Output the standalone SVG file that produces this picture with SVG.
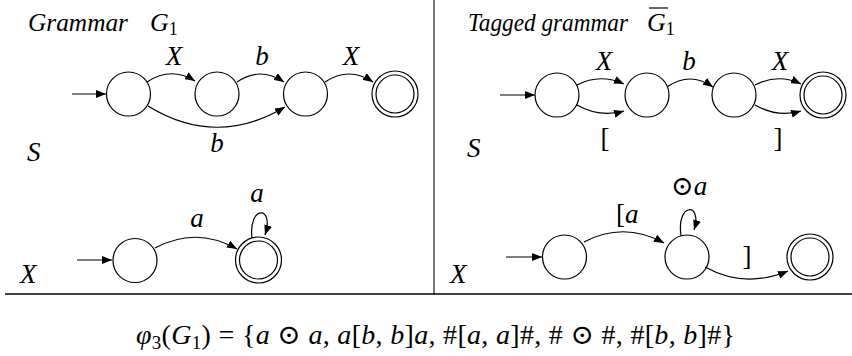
<svg xmlns="http://www.w3.org/2000/svg" width="852" height="356" viewBox="0 0 852 356">
<style>
text{font-family:'Liberation Serif','DejaVu Serif',serif;fill:#000}
.i{font-style:italic}
.lbl{font-size:27px}
.ttl{font-size:26px}
.sub{font-size:18px;font-style:normal}
.st{fill:#fff;stroke:#000;stroke-width:1.2}
.ed{fill:none;stroke:#000;stroke-width:1.2;marker-end:url(#ah)}
</style>
<defs>
<marker id="ah" viewBox="0 0 10 8" refX="10" refY="4" markerWidth="10" markerHeight="8" markerUnits="userSpaceOnUse" orient="auto">
<path d="M0,0 L10,4 L0,8 z" fill="#000"/>
</marker>
</defs>
<rect width="852" height="356" fill="#fff"/>
<line x1="434" y1="0" x2="434" y2="294" stroke="#777" stroke-width="2"/>
<line x1="5" y1="294" x2="852" y2="294" stroke="#000" stroke-width="1.6"/>

<g>
<text class="ttl i" x="28" y="31" textLength="100" lengthAdjust="spacingAndGlyphs">Grammar</text>
<text class="ttl i" x="150" y="31">G<tspan class="sub" dy="4">1</tspan></text>
<text class="ttl i" x="468" y="31" textLength="160" lengthAdjust="spacingAndGlyphs">Tagged grammar</text>
<text class="ttl i" x="647" y="31">G<tspan class="sub" dy="4">1</tspan></text>
<text class="lbl i" x="27" y="161">S</text>
<text class="lbl i" x="467" y="157">S</text>
<text class="lbl i" x="20" y="283">X</text>
<text class="lbl i" x="450" y="283">X</text>
</g>
<line x1="649" y1="8" x2="668" y2="8" stroke="#000" stroke-width="1.2"/>

<g id="g1s0"><circle class="st" cx="128.5" cy="94" r="22"/></g>
<g id="g1s1"><circle class="st" cx="217" cy="94" r="22"/></g>
<g id="g1s2"><circle class="st" cx="305.5" cy="94" r="22"/></g>
<g id="g1s3"><circle class="st" cx="395" cy="94" r="23"/><circle class="st" cx="395" cy="94" r="19"/></g>

<g id="t1s0"><circle class="st" cx="557" cy="95" r="22"/></g>
<g id="t1s1"><circle class="st" cx="647" cy="95" r="22"/></g>
<g id="t1s2"><circle class="st" cx="734" cy="95" r="22"/></g>
<g id="t1s3"><circle class="st" cx="823" cy="95" r="23"/><circle class="st" cx="823" cy="95" r="19"/></g>

<g id="g1x0"><circle class="st" cx="135" cy="260.5" r="22"/></g>
<g id="g1x1"><circle class="st" cx="258.5" cy="260" r="23"/><circle class="st" cx="258.5" cy="260" r="19"/></g>

<g id="t1x0"><circle class="st" cx="564.5" cy="257" r="22"/></g>
<g id="t1x1"><circle class="st" cx="687" cy="257" r="22"/></g>
<g id="t1x2"><circle class="st" cx="810" cy="257" r="23"/><circle class="st" cx="810" cy="257" r="19"/></g>

<g id="edges">
<path class="ed" d="M72,94 L106,94"/>
<path class="ed" d="M147,82 Q171,66 195,81"/>
<path class="ed" d="M237,82 Q260,66 284,82"/>
<path class="ed" d="M325,82 Q349,66 373,82"/>
<path class="ed" d="M148,106 Q216,148 285,107"/>

<path class="ed" d="M500,95 L535,95"/>
<path class="ed" d="M577,85 Q600,73 624,84"/>
<path class="ed" d="M577,105 Q600,118 624,111"/>
<path class="ed" d="M667,87 Q690,71 713,87"/>
<path class="ed" d="M755,85 Q778,73 801,84"/>
<path class="ed" d="M755,105 Q778,118 801,111"/>

<path class="ed" d="M77,260 L112,260"/>
<path class="ed" d="M155,248 Q196,226 237,249"/>
<path class="ed" d="M252,238 C248,205 275,205 265,235"/>

<path class="ed" d="M506,257 L542,257"/>
<path class="ed" d="M584,242 Q624,221 664,243"/>
<path class="ed" d="M681,236 C676,202 703,202 694,230"/>
<path class="ed" d="M705,267 Q745,289 788,271"/>
</g>

<g>
<text class="lbl i" x="174" y="65" text-anchor="middle">X</text>
<text class="lbl i" x="262" y="65" text-anchor="middle">b</text>
<text class="lbl i" x="351" y="65" text-anchor="middle">X</text>
<text class="lbl i" x="217" y="152" text-anchor="middle">b</text>

<text class="lbl i" x="604" y="70" text-anchor="middle">X</text>
<text class="lbl i" x="689" y="70" text-anchor="middle">b</text>
<text class="lbl i" x="780" y="70" text-anchor="middle">X</text>
<text class="lbl" x="605" y="147" text-anchor="middle">[</text>
<text class="lbl" x="778" y="147" text-anchor="middle">]</text>

<text class="lbl i" x="197" y="227" text-anchor="middle">a</text>
<text class="lbl i" x="257" y="202" text-anchor="middle">a</text>

<text class="lbl" x="616" y="223">[<tspan class="i">a</tspan></text>
<text class="lbl" x="671" y="195">⊙<tspan class="i">a</tspan></text>
<text class="lbl" x="747" y="265" text-anchor="middle">]</text>

<text x="136" y="344" font-size="28" textLength="599" lengthAdjust="spacing"><tspan class="i">φ</tspan><tspan font-size="19" dy="5">3</tspan><tspan dy="-5">(</tspan><tspan class="i">G</tspan><tspan font-size="19" dy="5">1</tspan><tspan dy="-5">) = {</tspan><tspan class="i">a</tspan> ⊙ <tspan class="i">a</tspan>, <tspan class="i">a</tspan>[<tspan class="i">b</tspan>, <tspan class="i">b</tspan>]<tspan class="i">a</tspan>, #[<tspan class="i">a</tspan>, <tspan class="i">a</tspan>]#, # ⊙ #, #[<tspan class="i">b</tspan>, <tspan class="i">b</tspan>]#}</text>
</g>
</svg>
